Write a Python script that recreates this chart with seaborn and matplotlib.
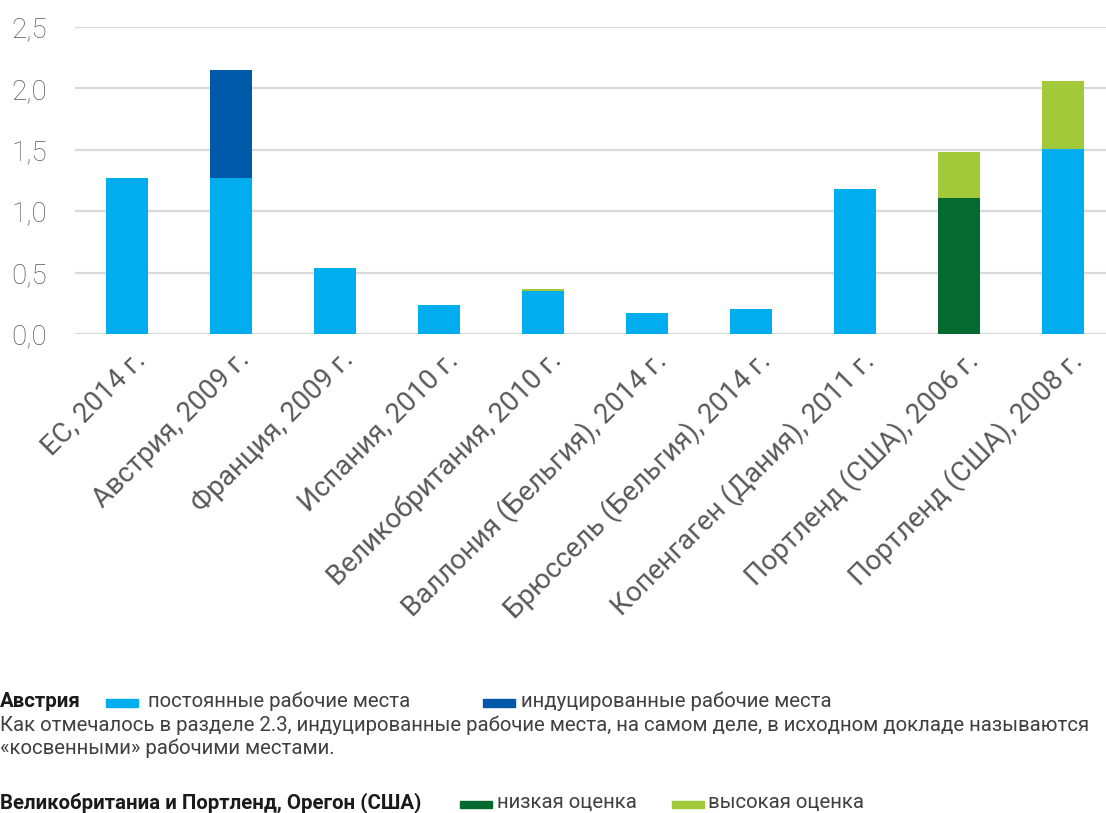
import matplotlib
matplotlib.use("Agg")
import matplotlib.pyplot as plt
import matplotlib.transforms as mtransforms
import seaborn as sns
import pandas as pd
from matplotlib.patches import Rectangle
from matplotlib.ticker import FuncFormatter

# =======================================================
#   DATOS
# =======================================================

categorias = ["ЕС, 2014 г.", "Австрия, 2009 г.", "Франция, 2009 г.", "Испания, 2010 г.",
              "Великобритания, 2010 г.", "Валлония (Бельгия), 2014 г.",
              "Брюссель (Бельгия), 2014 г.", "Копенгаген (Дания), 2011 г.",
              "Портленд (США), 2006 г.", "Портленд (США), 2008 г."]
postoyannye = [1.27, 1.27, 0.54, 0.24, 0.35, 0.17, 0.20, 1.18, 0.0, 1.51]
inducirovannye = [0.0, 0.88, 0.0, 0.0, 0.0, 0.0, 0.0, 0.0, 0.0, 0.0]
nizkaya = [0.0, 0.0, 0.0, 0.0, 0.0, 0.0, 0.0, 0.0, 1.11, 0.0]
vysokaya = [0.0, 0.0, 0.0, 0.0, 0.015, 0.0, 0.0, 0.0, 0.37, 0.55]
y_ticks = [0.0, 0.5, 1.0, 1.5, 2.0, 2.5]

AZUL = "#00AEEF"
AZUL_OSC = "#0059A8"
VERDE_OSC = "#046A30"
VERDE_CLARO = "#A2C93A"
GRIS_TXT = "#595959"

# =======================================================
#   PREPARACIÓN
# =======================================================

df = pd.DataFrame({
    "cat": categorias,
    "base": [p + n for p, n in zip(postoyannye, nizkaya)],
    "arriba": [i + v for i, v in zip(inducirovannye, vysokaya)],
})
df["total"] = df["base"] + df["arriba"]

colores_base = {c: (VERDE_OSC if n > 0 else AZUL) for c, n in zip(categorias, nizkaya)}
colores_arriba = {c: (AZUL_OSC if i > 0 else VERDE_CLARO) for c, i in zip(categorias, inducirovannye)}

# =======================================================
#   GRÁFICO
# =======================================================

sns.set_theme(style="white")
plt.rcParams["font.family"] = ["Roboto", "DejaVu Sans"]

fig = plt.figure(figsize=(11.06, 8.13), dpi=100)
W, H = 1106, 813
ax = fig.add_axes([75 / W, (H - 334) / H, (W - 75) / W, (334 - 27) / H])

# capa superior (total) y luego la base encima
sns.barplot(data=df, x="cat", y="total", hue="cat", palette=colores_arriba,
            legend=False, width=0.40, saturation=1, linewidth=0, ax=ax)
sns.barplot(data=df, x="cat", y="base", hue="cat", palette=colores_base,
            legend=False, width=0.40, saturation=1, linewidth=0, ax=ax)

ax.set_xlim(-0.5, -0.5 + (W - 75) / 104)
ax.set_ylim(0, 2.5)
ax.set_yticks(y_ticks)
ax.yaxis.set_major_formatter(FuncFormatter(lambda v, p: f"{v:.1f}".replace(".", ",")))
ax.grid(axis="y", color="#D9D9D9", linewidth=1.6)
ax.set_axisbelow(True)
for s in ax.spines.values():
    s.set_visible(False)
ax.set_xlabel("")
ax.set_ylabel("")
ax.tick_params(axis="y", length=0, pad=20, labelsize=20, labelcolor=GRIS_TXT)
ax.tick_params(axis="x", length=0, pad=3)
ax.set_xticks(range(len(categorias)))
ax.set_xticklabels(categorias, rotation=45, ha="right", va="top", rotation_mode="anchor",
                   fontsize=20, color=GRIS_TXT)
# pequeño desplazamiento de las etiquetas hacia la derecha y abajo
desplaz = mtransforms.ScaledTranslation(5 / 100, -8 / 100, fig.dpi_scale_trans)
for t in ax.get_xticklabels():
    t.set_transform(t.get_transform() + desplaz)
for t in ax.get_yticklabels():
    t.set_fontweight("light")

# =======================================================
#   LEYENDA Y NOTAS
# =======================================================

def px(x, y):
    return x / W, (H - y) / H

def parche(x0, x1, y0, y1, color):
    fig.patches.append(Rectangle(px(x0, y1), (x1 - x0) / W, (y1 - y0) / H,
                                 transform=fig.transFigure, color=color))

txt = dict(fontsize=14.7, color="#404040", va="baseline")
negrita = dict(fontsize=14.7, color="#1A1A1A", va="baseline", fontweight="bold")
fig.text(*px(0, 707), "Австрия", **negrita)
parche(106, 138, 699, 707, AZUL)
fig.text(*px(148, 707), "постоянные рабочие места", **txt)
parche(483, 515, 699, 707, AZUL_OSC)
fig.text(*px(521, 707), "индуцированные рабочие места", **txt)
fig.text(*px(0, 731), "Как отмечалось в разделе 2.3, индуцированные рабочие места, на самом деле, "
         "в исходном докладе называются", **txt)
fig.text(*px(0, 754), "«косвенными» рабочими местами.", **txt)

fig.text(*px(0, 808), "Великобританиа и Портленд, Орегон (США)", **negrita)
parche(460, 492, 801, 808, VERDE_OSC)
fig.text(*px(497, 808), "низкая оценка", **txt)
parche(672, 704, 801, 808, VERDE_CLARO)
fig.text(*px(708, 808), "высокая оценка", **txt)

fig.savefig("out.png", dpi=100, facecolor="white")
